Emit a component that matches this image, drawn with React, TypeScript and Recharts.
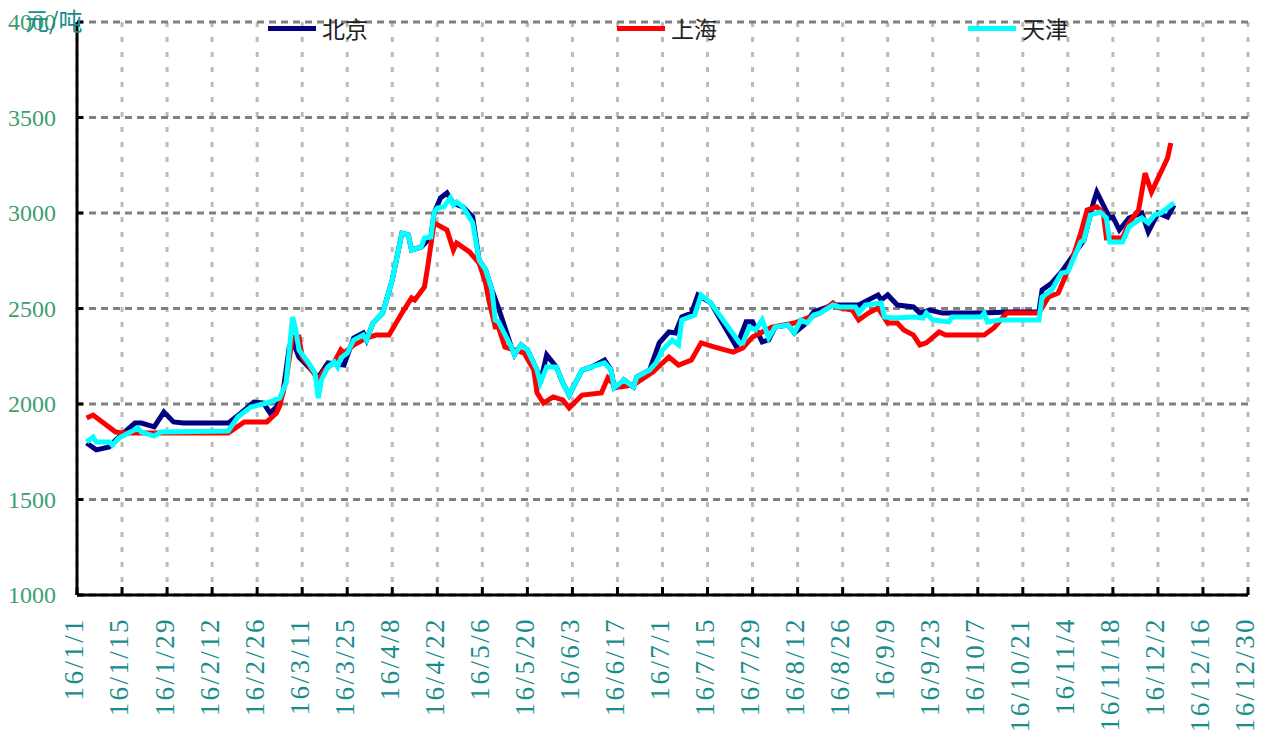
import { LineChart, Line, XAxis, YAxis, CartesianGrid } from 'recharts'

// day offsets from 2016-01-01, prices in 元/吨
const bjDays = [3, 6, 10, 12, 18, 20, 24, 27, 30, 33, 47, 51, 55, 58, 60, 62, 64, 66, 67, 69, 72, 75, 78, 83, 86, 89, 90, 92, 95, 98, 101, 103, 104, 107, 110, 111, 113, 115, 117, 120, 123, 125, 127, 129, 131, 135, 136, 138, 140, 143, 144, 146, 149, 151, 153, 157, 160, 164, 166, 167, 168, 170, 173, 174, 178, 181, 184, 186, 188, 191, 193, 197, 205, 208, 210, 213, 215, 217, 221, 223, 226, 229, 235, 243, 246, 249, 250, 252, 255, 260, 262, 265, 269, 281, 290, 299, 300, 303, 306, 313, 316, 317, 321, 322, 324, 327, 331, 333, 336, 339, 341]
const bjPrices = [1796, 1760, 1775, 1811, 1900, 1900, 1880, 1958, 1906, 1900, 1900, 1953, 2010, 2005, 1953, 1984, 2058, 2300, 2330, 2246, 2194, 2141, 2215, 2204, 2346, 2372, 2335, 2424, 2476, 2650, 2895, 2885, 2806, 2822, 2874, 3000, 3079, 3105, 3050, 3032, 2979, 2754, 2702, 2597, 2503, 2299, 2257, 2309, 2283, 2178, 2110, 2257, 2194, 2110, 2047, 2178, 2194, 2230, 2178, 2084, 2089, 2126, 2089, 2141, 2178, 2320, 2377, 2372, 2456, 2476, 2571, 2529, 2299, 2430, 2430, 2325, 2335, 2403, 2414, 2372, 2414, 2482, 2518, 2518, 2545, 2571, 2545, 2571, 2518, 2508, 2476, 2492, 2476, 2476, 2482, 2482, 2597, 2634, 2691, 2858, 3058, 3110, 2974, 2979, 2911, 2974, 3000, 2901, 3000, 2979, 3042]

const shDays = [3, 5, 12, 14, 47, 52, 59, 62, 63, 65, 67, 69, 70, 72, 75, 77, 80, 82, 83, 86, 90, 93, 97, 101, 104, 105, 108, 109, 111, 115, 117, 118, 122, 125, 127, 128, 130, 131, 133, 136, 139, 142, 143, 145, 148, 151, 153, 157, 163, 165, 167, 169, 173, 179, 184, 187, 191, 194, 198, 204, 207, 210, 216, 223, 231, 235, 237, 241, 243, 246, 249, 252, 255, 257, 260, 262, 264, 268, 270, 282, 285, 289, 299, 302, 305, 309, 312, 314, 317, 319, 320, 325, 327, 330, 332, 334, 339, 340]
const shPrices = [1927, 1942, 1853, 1848, 1848, 1906, 1906, 1953, 1990, 2126, 2351, 2351, 2246, 2204, 2126, 2178, 2220, 2283, 2267, 2309, 2346, 2361, 2361, 2476, 2555, 2545, 2613, 2717, 2948, 2911, 2806, 2843, 2796, 2738, 2634, 2545, 2403, 2403, 2299, 2283, 2267, 2178, 2058, 2005, 2037, 2021, 1979, 2047, 2058, 2136, 2100, 2089, 2100, 2168, 2246, 2204, 2230, 2320, 2299, 2272, 2293, 2351, 2403, 2424, 2476, 2529, 2503, 2492, 2440, 2476, 2503, 2424, 2424, 2388, 2361, 2309, 2320, 2377, 2361, 2361, 2398, 2476, 2476, 2560, 2581, 2738, 2895, 3016, 3032, 3000, 2869, 2869, 2948, 3016, 3209, 3110, 3288, 3367]

const tjDays = [3, 5, 6, 10, 11, 13, 19, 20, 24, 26, 47, 50, 54, 59, 63, 65, 67, 68, 69, 72, 74, 75, 76, 78, 80, 81, 82, 84, 86, 89, 90, 92, 95, 98, 101, 103, 104, 107, 108, 110, 111, 112, 114, 116, 117, 118, 120, 123, 125, 127, 129, 130, 131, 135, 136, 138, 140, 143, 144, 146, 149, 151, 153, 157, 160, 164, 166, 167, 170, 173, 174, 178, 180, 182, 185, 187, 188, 192, 194, 197, 206, 207, 209, 211, 213, 215, 217, 221, 223, 225, 227, 229, 231, 235, 237, 242, 243, 245, 250, 251, 254, 260, 263, 264, 266, 271, 272, 281, 282, 283, 287, 299, 300, 303, 306, 308, 312, 313, 315, 318, 320, 321, 325, 327, 331, 333, 335, 337, 341]
const tjPrices = [1801, 1827, 1801, 1801, 1785, 1822, 1874, 1853, 1832, 1853, 1859, 1932, 1984, 2005, 2031, 2110, 2456, 2388, 2283, 2215, 2162, 2031, 2126, 2194, 2220, 2194, 2241, 2267, 2335, 2361, 2335, 2424, 2476, 2650, 2895, 2885, 2806, 2822, 2869, 2874, 3005, 3026, 3032, 3079, 3042, 3058, 3032, 2948, 2754, 2702, 2597, 2440, 2430, 2299, 2257, 2309, 2283, 2178, 2110, 2194, 2194, 2110, 2047, 2178, 2194, 2215, 2178, 2084, 2126, 2089, 2141, 2178, 2215, 2283, 2335, 2309, 2440, 2466, 2571, 2529, 2320, 2320, 2403, 2388, 2440, 2346, 2403, 2414, 2372, 2440, 2424, 2466, 2476, 2518, 2508, 2508, 2476, 2518, 2529, 2456, 2450, 2456, 2450, 2476, 2440, 2430, 2456, 2456, 2476, 2430, 2440, 2440, 2560, 2597, 2686, 2691, 2848, 2858, 2990, 3005, 2974, 2848, 2848, 2927, 2974, 2948, 2990, 3000, 3053]

const dateLabels = ['16/1/1', '16/1/15', '16/1/29', '16/2/12', '16/2/26', '16/3/11', '16/3/25', '16/4/8', '16/4/22', '16/5/6', '16/5/20', '16/6/3', '16/6/17', '16/7/1', '16/7/15', '16/7/29', '16/8/12', '16/8/26', '16/9/9', '16/9/23', '16/10/7', '16/10/21', '16/11/4', '16/11/18', '16/12/2', '16/12/16', '16/12/30']
const priceTicks = [1000, 1500, 2000, 2500, 3000, 3500, 4000]

const toPoints = (days: number[], prices: number[]) => days.map((d, i) => ({ day: d, price: prices[i] }))

const series = [
  { name: '北京', color: '#000080', data: toPoints(bjDays, bjPrices) },
  { name: '上海', color: '#ff0000', data: toPoints(shDays, shPrices) },
  { name: '天津', color: '#00ffff', data: toPoints(tjDays, tjPrices) },
]

const tickDays = dateLabels.map((_, i) => i * 14)
const labelFont = '"Liberation Serif", serif'

function XTick({ x, y, payload }: any) {
  const label = dateLabels[tickDays.indexOf(payload.value)]
  return (
    <g transform={`translate(${x},${y})`}>
      <line x1={0} y1={0} x2={0} y2={-8} stroke="#000" strokeWidth={3} />
      <text transform="rotate(-90)" x={-22} y={-3} dy="0.35em" textAnchor="end"
        fill="#1a8c8c" fontSize={27} letterSpacing={2.4} fontFamily={labelFont}>{label}</text>
    </g>
  )
}

function YTick({ x, y, payload }: any) {
  return (
    <g>
      <line x1={x + 21} y1={y} x2={x + 27} y2={y} stroke="#000" strokeWidth={3} />
      <text x={x} y={y} dy="0.35em" textAnchor="end" fill="#3e9e6e" fontSize={24} fontFamily={labelFont}>{payload.value}</text>
    </g>
  )
}

const legendLeft = [268, 617, 968]

export default function App() {
  return (
    <div style={{ position: 'absolute', left: 0, top: 0, width: 1266, height: 738, background: '#fff' }}>
      <LineChart width={1266} height={738} margin={{ top: 22, right: 18, bottom: 0, left: 0 }}>
        <CartesianGrid horizontal={false} stroke="#bbbbbb" strokeWidth={3} strokeDasharray="5 10" />
        <CartesianGrid vertical={false} stroke="#808080" strokeWidth={3} strokeDasharray="7 5" />
        <XAxis dataKey="day" type="number" domain={[0, 364]} ticks={tickDays} interval={0}
          height={143} tickSize={0} tickMargin={0} tickLine={false}
          axisLine={{ stroke: '#000', strokeWidth: 3 }} tick={<XTick />} allowDuplicatedCategory={false} />
        <YAxis type="number" domain={[1000, 4000]} ticks={priceTicks} width={77} tickSize={0} tickMargin={21}
          tickLine={false} axisLine={{ stroke: '#000', strokeWidth: 3 }} tick={<YTick />} />
        {series.map(s => (
          <Line key={s.name} data={s.data} dataKey="price" name={s.name} type="linear" stroke={s.color}
            strokeWidth={5} dot={false} isAnimationActive={false} />
        ))}
      </LineChart>

      <div style={{ position: 'absolute', left: 25, top: 6, color: '#1a8c8c', fontSize: 24, lineHeight: '28px', fontFamily: '"Noto Sans CJK SC", sans-serif' }}>
        元/吨
      </div>

      {series.map((s, i) => (
        <div key={s.name} style={{ position: 'absolute', left: legendLeft[i], top: 14, display: 'flex', alignItems: 'center', height: 28 }}>
          <div style={{ width: 48, height: 5, background: s.color }} />
          <span style={{ marginLeft: 6, fontSize: 23, color: '#222', fontFamily: '"Noto Sans CJK SC", sans-serif' }}>{s.name}</span>
        </div>
      ))}
    </div>
  )
}
